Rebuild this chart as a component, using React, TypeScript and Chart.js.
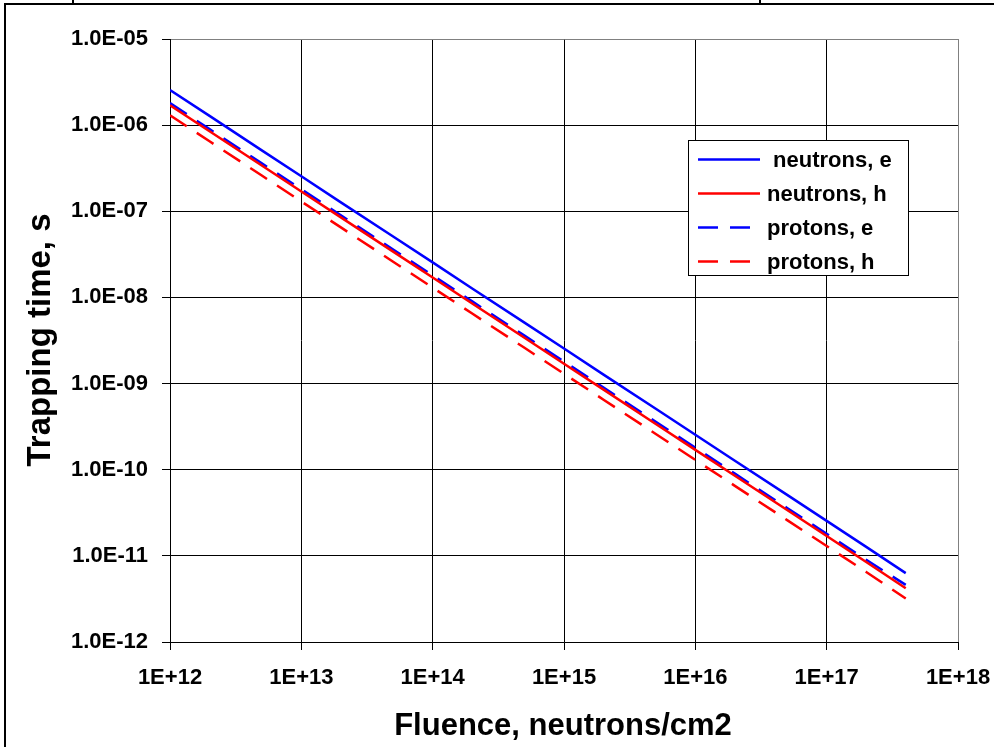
import React, { useEffect, useRef } from 'react';
import { Chart, registerables } from 'chart.js';

Chart.register(...registerables);

// Fluence values (neutrons/cm2) at which trapping times are given
const fluence = [
  1e12, 2e12, 5e12, 1e13, 2e13, 5e13, 1e14, 2e14, 5e14,
  1e15, 2e15, 5e15, 1e16, 2e16, 5e16, 1e17, 2e17, 4e17,
];

// Trapping times in seconds
const neutronsE = [
  2.55e-6, 1.28e-6, 5.1e-7, 2.55e-7, 1.27e-7, 5.1e-8, 2.55e-8, 1.27e-8, 5.1e-9,
  2.55e-9, 1.27e-9, 5.1e-10, 2.55e-10, 1.27e-10, 5.1e-11, 2.55e-11, 1.27e-11, 6.3e-12,
];
const neutronsH = [
  1.7e-6, 8.5e-7, 3.4e-7, 1.7e-7, 8.5e-8, 3.4e-8, 1.7e-8, 8.5e-9, 3.4e-9,
  1.7e-9, 8.5e-10, 3.4e-10, 1.7e-10, 8.5e-11, 3.4e-11, 1.7e-11, 8.5e-12, 4.2e-12,
];
const protonsE = [
  1.8e-6, 9.0e-7, 3.6e-7, 1.8e-7, 9.0e-8, 3.6e-8, 1.8e-8, 9.0e-9, 3.6e-9,
  1.8e-9, 9.0e-10, 3.6e-10, 1.8e-10, 9.0e-11, 3.6e-11, 1.8e-11, 9.0e-12, 4.6e-12,
];
const protonsH = [
  1.3e-6, 6.5e-7, 2.6e-7, 1.3e-7, 6.5e-8, 2.6e-8, 1.3e-8, 6.5e-9, 2.6e-9,
  1.3e-9, 6.5e-10, 2.6e-10, 1.3e-10, 6.5e-11, 2.6e-11, 1.3e-11, 6.5e-12, 3.2e-12,
];

const seriesLabels = [' neutrons, e', 'neutrons, h', 'protons, e', 'protons, h'];

const xTicks = [1e12, 1e13, 1e14, 1e15, 1e16, 1e17, 1e18];
const xTickLabels = ['1E+12', '1E+13', '1E+14', '1E+15', '1E+16', '1E+17', '1E+18'];
const yTicks = [1e-12, 1e-11, 1e-10, 1e-9, 1e-8, 1e-7, 1e-6, 1e-5];
const yTickLabels = ['1.0E-12', '1.0E-11', '1.0E-10', '1.0E-09', '1.0E-08', '1.0E-07', '1.0E-06', '1.0E-05'];

const xTitle = 'Fluence, neutrons/cm2';
const yTitle = 'Trapping time, s';

const FONT = "'Liberation Sans', Arial, sans-serif";
const BLUE = '#0000ff';
const RED = '#ff0000';
const DASH = [20, 12];

const toPoints = (ys: number[]) => fluence.map((x, i) => ({ x, y: ys[i] }));

// Outer frame, axis titles and the boxed legend inside the plot area
const decorations = {
  id: 'decorations',
  afterDatasetsDraw(chart: any) {
    const ctx = chart.ctx as CanvasRenderingContext2D;
    ctx.save();

    // frame around the figure
    ctx.strokeStyle = '#000';
    ctx.lineWidth = 2;
    ctx.beginPath();
    ctx.moveTo(5, 747);
    ctx.lineTo(5, 4);
    ctx.lineTo(994, 4);
    ctx.moveTo(73, 0);
    ctx.lineTo(73, 4);
    ctx.moveTo(760, 0);
    ctx.lineTo(760, 4);
    ctx.stroke();

    // axis titles
    ctx.fillStyle = '#000';
    ctx.font = `bold 31px ${FONT}`;
    ctx.textAlign = 'center';
    ctx.textBaseline = 'alphabetic';
    ctx.fillText(xTitle, 563, 735);

    ctx.save();
    ctx.translate(50, 340);
    ctx.rotate(-Math.PI / 2);
    ctx.font = `bold 33px ${FONT}`;
    ctx.fillText(yTitle, 0, 0);
    ctx.restore();

    // legend box
    const bx = 688;
    const by = 140;
    const bw = 220;
    const bh = 135;
    ctx.fillStyle = '#fff';
    ctx.fillRect(bx, by, bw, bh);
    ctx.strokeStyle = '#000';
    ctx.lineWidth = 1;
    ctx.strokeRect(bx + 0.5, by + 0.5, bw, bh);

    ctx.font = `bold 22px ${FONT}`;
    ctx.textAlign = 'left';
    ctx.textBaseline = 'middle';
    chart.data.datasets.forEach((ds: any, i: number) => {
      const y = by + 19.5 + i * 34;
      ctx.strokeStyle = ds.borderColor;
      ctx.lineWidth = ds.borderWidth;
      ctx.setLineDash(ds.borderDash || []);
      ctx.beginPath();
      ctx.moveTo(bx + 10, y);
      ctx.lineTo(bx + 72, y);
      ctx.stroke();
      ctx.setLineDash([]);
      ctx.fillStyle = '#000';
      ctx.fillText(ds.label, bx + 79, y + 1);
    });

    ctx.restore();
  },
};

export default function App() {
  const canvasRef = useRef<HTMLCanvasElement | null>(null);

  useEffect(() => {
    const canvas = canvasRef.current;
    if (!canvas) return;

    const makeSet = (label: string, ys: number[], color: string, dash: number[]) => ({
      label,
      data: toPoints(ys),
      borderColor: color,
      backgroundColor: color,
      borderWidth: 2.5,
      borderDash: dash,
      pointRadius: 0,
      pointHoverRadius: 0,
      fill: false,
      tension: 0,
    });

    const chart = new Chart(canvas, {
      type: 'line',
      data: {
        datasets: [
          makeSet(seriesLabels[0], neutronsE, BLUE, []),
          makeSet(seriesLabels[1], neutronsH, RED, []),
          makeSet(seriesLabels[2], protonsE, BLUE, DASH),
          makeSet(seriesLabels[3], protonsH, RED, DASH),
        ],
      },
      options: {
        animation: false,
        responsive: false,
        devicePixelRatio: 1,
        events: [],
        layout: { padding: { left: 0, top: 39, right: 36, bottom: 0 } },
        plugins: {
          legend: { display: false },
          tooltip: { enabled: false },
          title: { display: false },
        },
        scales: {
          x: {
            type: 'logarithmic',
            min: 1e12,
            max: 1e18,
            afterBuildTicks: (scale: any) => {
              scale.ticks = xTicks.map((v) => ({ value: v }));
            },
            afterFit: (scale: any) => {
              scale.height = 105;
              scale.paddingLeft = 0;
              scale.paddingRight = 0;
            },
            grid: {
              color: (c: any) => (c.tick && c.tick.value === 1e18 ? '#808080' : '#000000'),
              lineWidth: 1,
              tickLength: 8,
              tickColor: '#000000',
            },
            border: { color: '#000000', width: 1 },
            ticks: {
              autoSkip: false,
              maxRotation: 0,
              minRotation: 0,
              padding: 15,
              color: '#000',
              font: { family: FONT, size: 22, weight: 'bold' },
              callback: (value: any) => {
                const i = xTicks.indexOf(Number(value));
                return i >= 0 ? xTickLabels[i] : '';
              },
            },
          },
          y: {
            type: 'logarithmic',
            min: 1e-12,
            max: 1e-5,
            afterBuildTicks: (scale: any) => {
              scale.ticks = yTicks.map((v) => ({ value: v }));
            },
            afterFit: (scale: any) => {
              scale.width = 170;
              scale.paddingTop = 0;
              scale.paddingBottom = 0;
            },
            grid: {
              color: (c: any) => (c.tick && c.tick.value === 1e-5 ? '#808080' : '#000000'),
              lineWidth: 1,
              tickLength: 8,
              tickColor: '#000000',
            },
            border: { color: '#000000', width: 1 },
            ticks: {
              autoSkip: false,
              padding: 14,
              color: '#000',
              font: { family: FONT, size: 22, weight: 'bold' },
              callback: (value: any) => {
                const i = yTicks.indexOf(Number(value));
                return i >= 0 ? yTickLabels[i] : '';
              },
            },
          },
        },
      } as any,
      plugins: [decorations],
    });

    return () => chart.destroy();
  }, []);

  return (
    <div style={{ position: 'fixed', left: 0, top: 0, width: 994, height: 747, background: '#fff' }}>
      <canvas ref={canvasRef} width={994} height={747} style={{ display: 'block' }} />
    </div>
  );
}
